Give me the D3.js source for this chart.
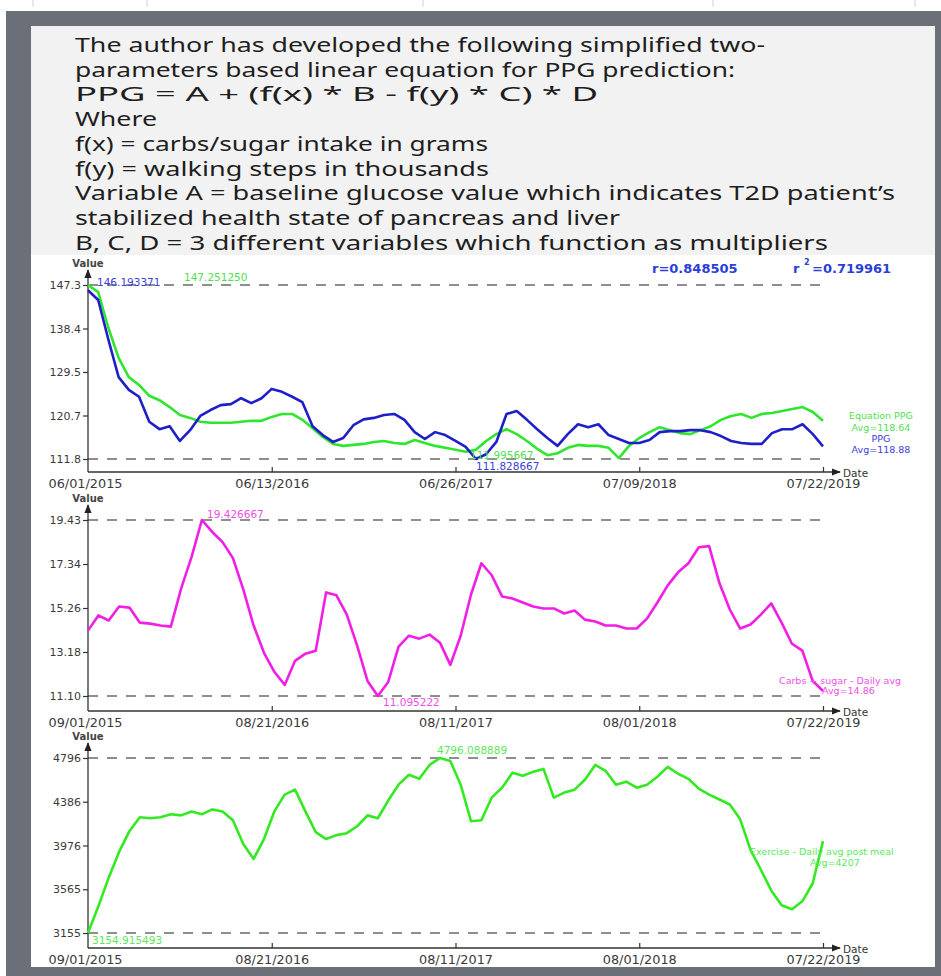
<!DOCTYPE html>
<html>
<head>
<meta charset="utf-8">
<script src="https://cdn.jsdelivr.net/npm/d3@7"></script>
<style>
  html, body { margin: 0; padding: 0; background: #ffffff; }
  svg { display: block; }
</style>
</head>
<body>
<svg id="chart" width="941" height="976"></svg>
<script>
// ---------------- DATA ----------------
const headerLines = [
  "The author has developed the following simplified two-",
  "parameters based linear equation for PPG prediction:",
  "PPG = A + (f(x) * B - f(y) * C) * D",
  "Where",
  "f(x) = carbs/sugar intake in grams",
  "f(y) = walking steps in thousands",
  "Variable A = baseline glucose value which indicates T2D patient\u2019s",
  "stabilized health state of pancreas and liver",
  "B, C, D = 3 different variables which function as multipliers"
];
const headerWidths = [690, 660, 523, 82, 413, 414, 820, 545, 753];

// Chart 1: PPG (measured) vs Equation PPG, one sample every 21 days from 06/01/2015
const ppgStartDate = "06/01/2015";
const ppgStepDays = 21;
const ppgDateTicks = ["06/01/2015", "06/13/2016", "06/26/2017", "07/09/2018", "07/22/2019"];
const ppgValueTicks = ["111.8", "120.7", "129.5", "138.4", "147.3"];
const ppgMeasured = [
  146.193371, 144.2, 136.1, 128.5, 125.9, 124.5, 119.4, 117.9, 118.5, 115.5,
  117.7, 120.6, 121.8, 122.8, 123.0, 124.2, 123.2, 124.2, 126.1, 125.5,
  124.5, 123.4, 118.5, 116.7, 115.3, 116.1, 118.7, 119.9, 120.2, 120.8,
  121.0, 119.8, 117.3, 115.9, 117.3, 116.7, 115.5, 114.3, 111.828667, 112.8,
  115.3, 121.0, 121.6, 119.8, 117.9, 116.1, 114.5, 116.9, 118.9, 118.3,
  118.9, 116.7, 115.9, 115.1, 115.1, 115.7, 117.3, 117.5, 117.5, 117.7,
  117.7, 117.3, 116.5, 115.5, 115.1, 114.9, 114.9, 117.1, 117.9, 117.9,
  118.9, 116.9, 114.4
];
const ppgEquation = [
  147.251250, 145.8, 138.5, 132.4, 128.5, 126.9, 124.7, 123.8, 122.4, 120.8,
  120.2, 119.4, 119.2, 119.2, 119.2, 119.4, 119.6, 119.6, 120.4, 121.0,
  121.0, 119.8, 118.1, 116.3, 114.9, 114.5, 114.7, 114.9, 115.3, 115.5,
  115.1, 114.9, 115.7, 115.1, 114.5, 114.1, 113.7, 113.3, 113.7, 115.5,
  116.9, 117.9, 116.9, 115.5, 113.9, 112.6, 113.0, 114.1, 114.7, 114.5,
  114.5, 114.1, 111.995667, 114.5, 116.1, 117.3, 118.3, 117.7, 117.1, 116.9,
  117.7, 118.5, 119.8, 120.6, 121.0, 120.2, 121.0, 121.2, 121.6, 122.0,
  122.4, 121.4, 119.6
];

// Charts 2 and 3: one sample every 20 days from 09/01/2015
const dailyStartDate = "09/01/2015";
const dailyStepDays = 20;
const dailyDateTicks = ["09/01/2015", "08/21/2016", "08/11/2017", "08/01/2018", "07/22/2019"];
const carbValueTicks = ["11.10", "13.18", "15.26", "17.34", "19.43"];
const carbsSugar = [
  14.19, 14.91, 14.67, 15.33, 15.28, 14.57, 14.52, 14.43, 14.38, 16.19,
  17.67, 19.426667, 18.86, 18.38, 17.62, 16.14, 14.43, 13.14, 12.24, 11.62,
  12.76, 13.10, 13.24, 16.00, 15.86, 14.95, 13.48, 11.81, 11.095222, 11.76,
  13.43, 13.95, 13.81, 14.00, 13.62, 12.57, 13.95, 15.90, 17.38, 16.81,
  15.81, 15.71, 15.52, 15.33, 15.24, 15.24, 15.00, 15.14, 14.71, 14.62,
  14.43, 14.43, 14.29, 14.29, 14.76, 15.52, 16.33, 16.95, 17.38, 18.14,
  18.19, 16.43, 15.19, 14.29, 14.48, 14.95, 15.48, 14.57, 13.57, 13.24,
  11.81, 11.33
];
const exerciseValueTicks = ["3155", "3565", "3976", "4386", "4796"];
const exerciseSteps = [
  3154.915493, 3405, 3674, 3915, 4110, 4240, 4231, 4240, 4268, 4258,
  4295, 4268, 4314, 4295, 4212, 3989, 3850, 4036, 4295, 4453,
  4499, 4295, 4101, 4036, 4073, 4091, 4156, 4258, 4231, 4397,
  4546, 4639, 4601, 4731, 4796.088889, 4768, 4546, 4203, 4212, 4425,
  4518, 4657, 4629, 4666, 4694, 4425, 4472, 4499, 4592, 4731,
  4676, 4546, 4574, 4518, 4546, 4620, 4713, 4648, 4601, 4509,
  4453, 4407, 4360, 4221, 3934, 3748, 3554, 3415, 3378, 3452,
  3619, 4017
];

// ---------------- DRAWING ----------------
const parse = d3.timeParse("%m/%d/%Y");
const svg = d3.select("#chart");
const FONT = "'DejaVu Sans', sans-serif";

// page, frame and panels
svg.append("rect").attr("x", 0).attr("y", 0).attr("width", 941).attr("height", 976).attr("fill", "#ffffff");
[33, 147, 423, 713, 915].forEach(px => {
  svg.append("line").attr("x1", px).attr("x2", px).attr("y1", 0).attr("y2", 7)
    .attr("stroke", "#cfcfcf").attr("stroke-width", 1);
});
svg.append("rect").attr("x", 6).attr("y", 11).attr("width", 935).attr("height", 965).attr("fill", "#6b6f77");
svg.append("rect").attr("x", 31).attr("y", 26).attr("width", 904).attr("height", 230).attr("fill", "#f2f2f2");
svg.append("rect").attr("x", 31).attr("y", 255).attr("width", 904).attr("height", 712).attr("fill", "#ffffff");

// header text
const header = svg.append("g");
headerLines.forEach((t, i) => {
  header.append("text")
    .attr("x", 75).attr("y", 52 + i * 24.7)
    .attr("font-family", "'Noto Sans', sans-serif")
    .attr("font-size", 19.5)
    .attr("fill", "#1e1e1e")
    .attr("textLength", headerWidths[i])
    .attr("lengthAdjust", "spacingAndGlyphs")
    .text(t);
});
// clip last header line at the chart panel
svg.append("rect").attr("x", 31).attr("y", 255).attr("width", 904).attr("height", 4).attr("fill", "#ffffff");

// arrow marker
const defs = svg.append("defs");
defs.append("marker").attr("id", "arrow")
  .attr("viewBox", "0 0 10 10").attr("refX", 9).attr("refY", 5)
  .attr("markerWidth", 7).attr("markerHeight", 7).attr("orient", "auto-start-reverse")
  .append("path").attr("d", "M0,1 L10,5 L0,9 Z").attr("fill", "#222");

function drawChart(o) {
  const g = svg.append("g");
  const x = d3.scaleTime().domain([parse(o.dateTicks[0]), parse(o.dateTicks[o.dateTicks.length - 1])]).range([88, 823]);
  const allVals = [].concat(...o.series.map(s => s.values));
  const vMin = d3.min(allVals), vMax = d3.max(allVals);
  const y = d3.scaleLinear().domain([vMin, vMax]).range([o.yBottom, o.yTop]);
  const start = parse(o.startDate);
  const dateAt = i => d3.timeDay.offset(start, i * o.stepDays);

  // dashed min / max guide lines
  [vMin, vMax].forEach(v => {
    g.append("line").attr("x1", 88).attr("x2", 823).attr("y1", y(v)).attr("y2", y(v))
      .attr("stroke", "#6a6a6a").attr("stroke-width", 1.4).attr("stroke-dasharray", "10,9");
  });

  // axes lines with arrows
  g.append("line").attr("x1", 88).attr("x2", 88).attr("y1", o.axisY).attr("y2", o.yTop - 15)
    .attr("stroke", "#333").attr("stroke-width", 1.3).attr("marker-end", "url(#arrow)");
  g.append("line").attr("x1", 88).attr("x2", 840).attr("y1", o.axisY).attr("y2", o.axisY)
    .attr("stroke", "#333").attr("stroke-width", 1.3).attr("marker-end", "url(#arrow)");

  // y axis ticks
  const tickVals = d3.range(o.valueTicks.length).map(i => vMin + i * (vMax - vMin) / (o.valueTicks.length - 1));
  const yAxis = d3.axisLeft(y).tickValues(tickVals).tickFormat((d, i) => o.valueTicks[i]).tickSize(5).tickPadding(2);
  const ya = g.append("g").attr("transform", "translate(88,0)").call(yAxis);
  ya.select(".domain").remove();
  ya.selectAll("line").attr("stroke", "#333").attr("stroke-width", 1.2);
  ya.selectAll("text").attr("font-family", FONT).attr("font-size", 11).attr("fill", "#3a3a3a");

  // x axis ticks (inward)
  const xAxis = d3.axisBottom(x).tickValues(o.dateTicks.map(parse)).tickFormat((d, i) => o.dateTicks[i]).tickSize(-5).tickPadding(8);
  const xa = g.append("g").attr("transform", `translate(0,${o.axisY})`).call(xAxis);
  xa.select(".domain").remove();
  xa.selectAll("line").attr("stroke", "#333").attr("stroke-width", 1.2);
  xa.selectAll("text").attr("font-family", FONT).attr("font-size", 11.5).attr("fill", "#3a3a3a")
    .attr("textLength", 74).attr("lengthAdjust", "spacingAndGlyphs");
  xa.selectAll(".tick").filter((d, i) => i === 0).select("line").remove();
  xa.selectAll(".tick").filter((d, i) => i === 0).select("text").attr("x", -3);

  g.append("text").attr("x", 843).attr("y", o.axisY + 5).attr("font-family", FONT).attr("font-size", 10.5)
    .attr("fill", "#333").text("Date");
  g.append("text").attr("x", 88).attr("y", o.yTop - 18).attr("text-anchor", "middle").attr("font-family", FONT)
    .attr("font-size", 10).attr("font-weight", "bold").attr("fill", "#444").text("Value");

  // series
  const line = d3.line().x((d, i) => x(dateAt(i))).y(d => y(d)).curve(d3.curveLinear);
  o.series.forEach(s => {
    g.append("path").datum(s.values).attr("d", line).attr("fill", "none")
      .attr("stroke", s.color).attr("stroke-width", 2.6).attr("stroke-linejoin", "round");
  });

  // annotations
  o.labels.forEach(l => {
    g.append("text").attr("x", l.x).attr("y", l.y).attr("text-anchor", l.anchor || "start")
      .attr("font-family", FONT).attr("font-size", l.size || 10.5).attr("font-weight", l.bold ? "bold" : "normal")
      .attr("fill", l.color).text(l.text);
  });
  return { x, y };
}

const blue = "#1f1fc9", green = "#2fe62f", blueText = "#3d40d6", greenText = "#4fe04f";
const magenta = "#f21ee6", magentaText = "#ee4fe8", green3 = "#33ea22", green3Text = "#5ce85a";

drawChart({
  dateTicks: ppgDateTicks, startDate: ppgStartDate, stepDays: ppgStepDays,
  valueTicks: ppgValueTicks, yTop: 285, yBottom: 459, axisY: 472,
  series: [
    { values: ppgEquation, color: green },
    { values: ppgMeasured, color: blue }
  ],
  labels: [
    { text: d3.max(ppgMeasured).toFixed(6), x: 97, y: 286, color: blueText },
    { text: d3.max(ppgEquation).toFixed(6), x: 184, y: 281, color: greenText },
    { text: d3.min(ppgEquation).toFixed(6), x: 470, y: 459, color: greenText },
    { text: d3.min(ppgMeasured).toFixed(6), x: 476, y: 470, color: blueText },
    { text: "r=0.848505", x: 652, y: 273, color: "#2b3ed8", bold: true, size: 13 },
    { text: "r", x: 793, y: 273, color: "#2b3ed8", bold: true, size: 13 },
    { text: "2", x: 804, y: 265, color: "#2b3ed8", bold: true, size: 8 },
    { text: "=0.719961", x: 812, y: 273, color: "#2b3ed8", bold: true, size: 13 },
    { text: "Equation PPG", x: 881, y: 419, color: greenText, anchor: "middle", size: 9.5 },
    { text: "Avg=118.64", x: 881, y: 431, color: greenText, anchor: "middle", size: 9.5 },
    { text: "PPG", x: 881, y: 442, color: blueText, anchor: "middle", size: 9.5 },
    { text: "Avg=118.88", x: 881, y: 453, color: blueText, anchor: "middle", size: 9.5 }
  ]
});

drawChart({
  dateTicks: dailyDateTicks, startDate: dailyStartDate, stepDays: dailyStepDays,
  valueTicks: carbValueTicks, yTop: 520, yBottom: 696, axisY: 711,
  series: [{ values: carbsSugar, color: magenta }],
  labels: [
    { text: d3.max(carbsSugar).toFixed(6), x: 207, y: 518, color: magentaText },
    { text: d3.min(carbsSugar).toFixed(6), x: 383, y: 706, color: magentaText },
    { text: "Carbs + sugar - Daily avg", x: 779, y: 684, color: magentaText, size: 9.5 },
    { text: "Avg=14.86", x: 822, y: 694, color: magentaText, size: 9.5 }
  ]
});

drawChart({
  dateTicks: dailyDateTicks, startDate: dailyStartDate, stepDays: dailyStepDays,
  valueTicks: exerciseValueTicks, yTop: 758, yBottom: 933, axisY: 948,
  series: [{ values: exerciseSteps, color: green3 }],
  labels: [
    { text: d3.max(exerciseSteps).toFixed(6), x: 437, y: 754, color: green3Text },
    { text: d3.min(exerciseSteps).toFixed(6), x: 92, y: 944, color: green3Text },
    { text: "Exercise - Daily avg post meal", x: 750, y: 855, color: green3Text, size: 9.5 },
    { text: "Avg=4207", x: 810, y: 866, color: green3Text, size: 9.5 }
  ]
});
</script>
</body>
</html>
